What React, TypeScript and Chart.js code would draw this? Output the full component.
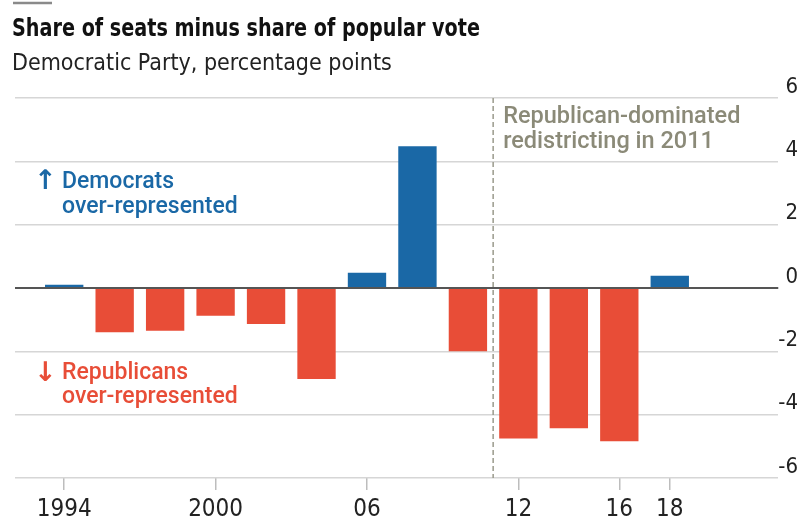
import React, { useEffect, useRef } from 'react';
import { Chart, registerables } from 'chart.js';

Chart.register(...registerables);

const years = [1994, 1996, 1998, 2000, 2002, 2004, 2006, 2008, 2010, 2012, 2014, 2016, 2018];
const seatMinusVote = [0.1, -1.4, -1.35, -0.88, -1.14, -2.87, 0.48, 4.48, -2.0, -4.75, -4.43, -4.84, 0.39];
const xTickValues = [1994, 2000, 2006, 2012, 2016, 2018];
const xTickLabels = ['1994', '2000', '06', '12', '16', '18'];
const yTickValues = [-6, -4, -2, 0, 2, 4, 6];
const redistrictYear = 2011;

const titleText = 'Share of seats minus share of popular vote';
const subtitleText = 'Democratic Party, percentage points';
const redistrictNote = ['Republican-dominated', 'redistricting in 2011'];
const demNote = ['Democrats', 'over-represented'];
const repNote = ['Republicans', 'over-represented'];

const BLUE = '#1a68a6';
const RED = '#e84d37';
const NOTE_GRAY = '#8b8a78';
const NARROW = "'Liberation Sans Narrow', 'DejaVu Sans Condensed', Roboto, sans-serif";
const SANS = "Roboto, 'Noto Sans', sans-serif";

const notesPlugin = {
  id: 'notes',
  beforeDraw(chart: any) {
    const ctx = chart.ctx;
    ctx.save();
    ctx.fillStyle = '#ffffff';
    ctx.fillRect(0, 0, chart.width, chart.height);
    ctx.strokeStyle = '#8a8a8a';
    ctx.lineWidth = 2.5;
    ctx.beginPath();
    ctx.moveTo(13, 3);
    ctx.lineTo(52, 3);
    ctx.stroke();
    // title and subtitle
    ctx.textAlign = 'left';
    ctx.textBaseline = 'alphabetic';
    ctx.fillStyle = '#111111';
    ctx.font = `bold 25px ${NARROW}`;
    ctx.fillText(titleText, 12, 36, 468);
    ctx.fillStyle = '#222222';
    ctx.font = `normal 23px ${NARROW}`;
    ctx.fillText(subtitleText, 12, 70, 380);
    ctx.restore();
  },
  afterDatasetsDraw(chart: any) {
    const { ctx, chartArea, scales } = chart;
    const x = scales.x;
    const y = scales.y;
    ctx.save();
    // zero line
    ctx.strokeStyle = '#555555';
    ctx.lineWidth = 2;
    ctx.beginPath();
    ctx.moveTo(chartArea.left, y.getPixelForValue(0));
    ctx.lineTo(chartArea.right, y.getPixelForValue(0));
    ctx.stroke();
    // dashed redistricting line
    const lx = x.getPixelForValue(redistrictYear);
    ctx.strokeStyle = '#9a9a8c';
    ctx.lineWidth = 1.5;
    ctx.setLineDash([5, 3]);
    ctx.beginPath();
    ctx.moveTo(lx, chartArea.top);
    ctx.lineTo(lx, chartArea.bottom);
    ctx.stroke();
    ctx.setLineDash([]);

    ctx.textBaseline = 'middle';
    ctx.textAlign = 'left';
    ctx.font = `500 23.5px ${SANS}`;
    ctx.fillStyle = NOTE_GRAY;
    ctx.fillText(redistrictNote[0], lx + 10, y.getPixelForValue(5.4));
    ctx.fillText(redistrictNote[1], lx + 10, y.getPixelForValue(4.6));

    const left = chartArea.left;
    ctx.font = `500 23px ${SANS}`;
    ctx.fillStyle = BLUE;
    ctx.fillText(demNote[0], left + 47, y.getPixelForValue(3.35));
    ctx.fillText(demNote[1], left + 47, y.getPixelForValue(2.55));
    ctx.fillStyle = RED;
    ctx.fillText(repNote[0], left + 47, y.getPixelForValue(-2.7));
    ctx.fillText(repNote[1], left + 47, y.getPixelForValue(-3.45));

    ctx.font = `bold 27px 'DejaVu Sans', sans-serif`;
    ctx.fillStyle = BLUE;
    ctx.fillText('↑', left + 19, y.getPixelForValue(3.35));
    ctx.fillStyle = RED;
    ctx.fillText('↓', left + 19, y.getPixelForValue(-2.7));
    ctx.restore();
  },
};

export default function App() {
  const canvasRef = useRef<HTMLCanvasElement | null>(null);

  useEffect(() => {
    document.body.style.margin = '0';
    const canvas = canvasRef.current;
    if (!canvas) return;
    const chart = new Chart(canvas, {
      type: 'bar',
      data: {
        datasets: [
          {
            data: years.map((yr, i) => ({ x: yr, y: seatMinusVote[i] })),
            backgroundColor: seatMinusVote.map((v) => (v >= 0 ? BLUE : RED)),
            barPercentage: 0.76,
            categoryPercentage: 1,
            borderWidth: 0,
          } as any,
        ],
      },
      options: {
        responsive: false,
        animation: false,
        devicePixelRatio: 1,
        layout: { padding: { left: 15, right: 4, top: 98, bottom: -9 } },
        plugins: {
          legend: { display: false },
          tooltip: { enabled: false },
          title: { display: false },
          subtitle: { display: false },
        },
        scales: {
          x: {
            type: 'linear',
            offset: false,
            min: 1992.05,
            max: 2022.3,
            afterBuildTicks: (scale: any) => {
              scale.ticks = xTickValues.map((v) => ({ value: v }));
            },
            ticks: {
              autoSkip: false,
              maxRotation: 0,
              color: '#222222',
              padding: 8,
              font: { family: NARROW, size: 24, lineHeight: 1 },
              callback: (v: any) => xTickLabels[xTickValues.indexOf(Number(v))] ?? '',
            },
            grid: {
              offset: false,
              drawOnChartArea: false,
              drawTicks: true,
              tickLength: 12,
              color: '#bdbdbd',
              lineWidth: 1.5,
            },
            border: { display: false },
          },
          y: {
            position: 'right',
            min: -6,
            max: 6,
            afterBuildTicks: (scale: any) => {
              scale.ticks = yTickValues.map((v) => ({ value: v }));
            },
            ticks: {
              color: '#222222',
              padding: 0,
              crossAlign: 'far',
              labelOffset: -11,
              font: { family: NARROW, size: 22, lineHeight: 1 },
              callback: (v: any) => String(v),
            },
            grid: {
              drawTicks: false,
              color: '#d6d6d6',
              lineWidth: 1.5,
            },
            border: { display: false },
          },
        },
      } as any,
      plugins: [notesPlugin],
    });
    return () => chart.destroy();
  }, []);

  return (
    <div style={{ width: 802, height: 521 }}>
      <canvas ref={canvasRef} width={802} height={521} />
    </div>
  );
}
